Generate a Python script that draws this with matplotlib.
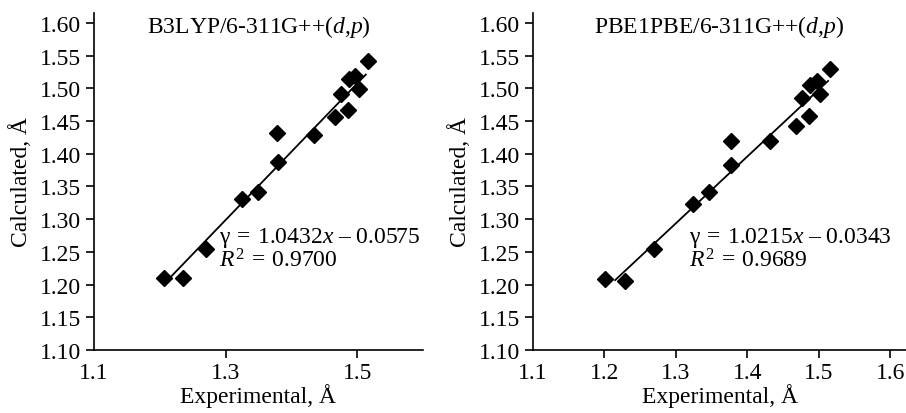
import matplotlib
matplotlib.use('Agg')
import matplotlib.pyplot as plt
import numpy as np

plt.rcParams['font.family'] = ['Liberation Serif', 'DejaVu Serif']
plt.rcParams['mathtext.fontset'] = 'custom'
plt.rcParams['mathtext.rm'] = 'Liberation Serif'
plt.rcParams['mathtext.it'] = 'Liberation Serif:italic'
plt.rcParams['font.size'] = 17

# experimental vs calculated bond lengths, Å
exp_b3lyp = [1.206, 1.235, 1.270, 1.325, 1.349, 1.3785, 1.380, 1.4345,
             1.467, 1.476, 1.4865, 1.4875, 1.496, 1.502, 1.517]
calc_b3lyp = [1.210, 1.210, 1.255, 1.330, 1.342, 1.431, 1.387, 1.429,
              1.456, 1.491, 1.467, 1.514, 1.518, 1.499, 1.541]

exp_pbe = [1.201, 1.229, 1.269, 1.324, 1.347, 1.377, 1.377, 1.431,
           1.468, 1.476, 1.486, 1.487, 1.497, 1.502, 1.515]
calc_pbe = [1.208, 1.206, 1.254, 1.323, 1.341, 1.419, 1.382, 1.420,
            1.442, 1.485, 1.457, 1.505, 1.511, 1.491, 1.529]

# linear fits: slope, intercept, R^2
fit_b3lyp = (1.0432, -0.0575, 0.9700)
fit_pbe = (1.0215, -0.0343, 0.9689)

yticks = [1.10, 1.15, 1.20, 1.25, 1.30, 1.35, 1.40, 1.45, 1.50, 1.55, 1.60]
xticks_b3lyp = [1.1, 1.3, 1.5]
xticks_pbe = [1.1, 1.2, 1.3, 1.4, 1.5, 1.6]

fig = plt.figure(figsize=(9.06, 4.14), dpi=100)
ax1 = fig.add_axes([94 / 906, 63 / 414, 329 / 906, 337 / 414])
ax2 = fig.add_axes([533 / 906, 63 / 414, 373 / 906, 337 / 414])


def draw_panel(ax, xs, ys, fit, title, xticks, xmax, eq_x):
    a, b, r2 = fit
    ax.plot(xs, ys, 'D', color='black', ms=8.5, zorder=3)
    xl = np.array([1.215, 1.513])
    ax.plot(xl, a * xl + b, color='black', lw=1.3, zorder=2)

    ax.set_xlim(1.1, xmax)
    ax.set_ylim(1.10, 1.615)
    ax.set_yticks(yticks)
    ax.set_yticklabels(['%.2f' % t for t in yticks])
    ax.set_xticks(xticks)
    ax.set_xticklabels(['%.1f' % t for t in xticks])
    ax.spines['top'].set_visible(False)
    ax.spines['right'].set_visible(False)
    ax.spines['left'].set_linewidth(1.2)
    ax.spines['bottom'].set_linewidth(1.2)
    ax.tick_params(direction='out', length=6, width=1.2, pad=3)
    ax.xaxis.get_major_ticks()[0].tick1line.set_visible(False)

    ax.set_xlabel('Experimental, Å', labelpad=0)
    ax.set_ylabel('Calculated, Å', labelpad=6)
    ax.text(0.5, 0.962, title, transform=ax.transAxes,
            ha='center', va='center')

    sign = '–' if b < 0 else '+'
    ax.text(eq_x, 1.273,
            r'$\mathrm{γ\:=\:%.4f}\mathit{x}\mathrm{\ %s\ %.4f}$' % (a, sign, abs(b)),
            ha='left', va='center')
    ax.text(eq_x, 1.237, r'$\mathit{R}^{\mathrm{2}}\mathrm{\:=\:%.4f}$' % r2,
            ha='left', va='center')


draw_panel(ax1, exp_b3lyp, calc_b3lyp, fit_b3lyp,
           r'B3LYP/6-311G++($\mathit{d}{,}\mathit{p}$)', xticks_b3lyp, 1.6, 1.29)
draw_panel(ax2, exp_pbe, calc_pbe, fit_pbe,
           r'PBE1PBE/6-311G++($\mathit{d}{,}\mathit{p}$)', xticks_pbe, 1.622, 1.318)

fig.savefig('out.png', dpi=100)
